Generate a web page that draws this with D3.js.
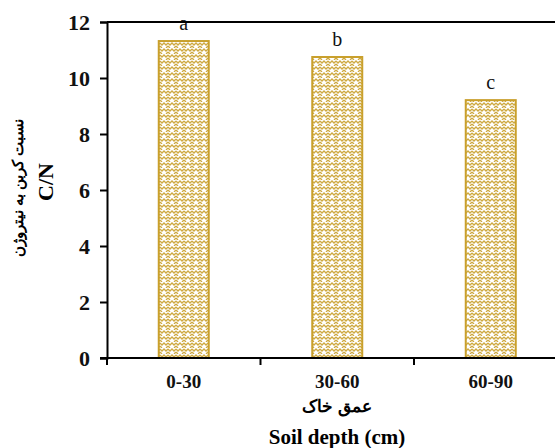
<!DOCTYPE html>
<html>
<head>
<meta charset="utf-8">
<script src="https://cdn.jsdelivr.net/npm/d3@7"></script>
<style>
  body { margin: 0; background: #fff; }
  svg { display: block; }
</style>
</head>
<body>
<div id="chart"></div>
<script>
// data
var depths = ['0-30', '30-60', '60-90'];
var cnRatio = [11.32, 10.75, 9.21];
var groupLetters = ['a', 'b', 'c'];
var yTicks = [0, 2, 4, 6, 8, 10, 12];

var W = 555, H = 448;
var SERIF = '"Liberation Serif", "DejaVu Serif", serif';
var GOLD = '#C9A02C';

var svg = d3.select('#chart').append('svg')
  .attr('width', W).attr('height', H);

/* zigzag fill pattern */
var defs = svg.append('defs');
var pat = defs.append('pattern')
  .attr('id', 'zig').attr('patternUnits', 'userSpaceOnUse')
  .attr('width', 8).attr('height', 6);
pat.append('rect').attr('width', 8).attr('height', 6).attr('fill', '#fff');
pat.append('path')
  .attr('d', 'M0,1 L2,3 L4,1 L6,3 L8,1 M0,4 L2,6 M6,6 L8,4')
  .attr('fill', 'none').attr('stroke', GOLD).attr('stroke-width', 1.3)
  .attr('opacity', 0.9);

var mLeft = 107, mTop = 22, mBottom = 358, step = 153.5;

var x = d3.scaleBand().domain(depths)
  .range([mLeft, mLeft + 3 * step]).paddingInner(0).paddingOuter(0);
var y = d3.scaleLinear().domain([0, 12]).range([mBottom, mTop]);

/* bars */
svg.selectAll('rect.bar').data(cnRatio).enter().append('rect')
  .attr('class', 'bar')
  .attr('x', function (d, i) { return x(depths[i]) + x.bandwidth() / 2 - 25; })
  .attr('y', function (d) { return y(d); })
  .attr('width', 50)
  .attr('height', function (d) { return y(0) - y(d); })
  .attr('fill', 'url(#zig)')
  .attr('stroke', GOLD).attr('stroke-width', 2);

/* letters */
svg.selectAll('text.grp').data(cnRatio).enter().append('text')
  .attr('class', 'grp')
  .attr('x', function (d, i) { return x(depths[i]) + x.bandwidth() / 2; })
  .attr('y', function (d) { return y(d) - 11; })
  .attr('text-anchor', 'middle')
  .attr('font-family', SERIF).attr('font-size', 20)
  .attr('fill', '#111')
  .text(function (d, i) { return groupLetters[i]; });

/* top border */
svg.append('line')
  .attr('x1', mLeft).attr('x2', W).attr('y1', mTop).attr('y2', mTop)
  .attr('stroke', '#000').attr('stroke-width', 2);

/* y axis */
var yAxis = svg.append('g')
  .attr('transform', 'translate(' + mLeft + ',0)')
  .call(d3.axisLeft(y).tickValues(yTicks).tickSize(7).tickPadding(10));
yAxis.select('.domain').attr('stroke-width', 2);
yAxis.selectAll('.tick line').attr('stroke-width', 2);
yAxis.selectAll('.tick text')
  .attr('font-family', SERIF).attr('font-size', 22).attr('font-weight', 'bold')
  .attr('fill', '#111');

/* x axis */
var xAxis = svg.append('g')
  .attr('transform', 'translate(0,' + mBottom + ')')
  .call(d3.axisBottom(x).tickSize(0).tickPadding(17));
xAxis.select('.domain').attr('stroke-width', 2)
  .attr('d', 'M' + (mLeft - 7) + ',0H' + (mLeft + 3 * step));
xAxis.selectAll('.tick text')
  .attr('font-family', SERIF).attr('font-size', 19).attr('font-weight', 'bold')
  .attr('fill', '#111');
xAxis.selectAll('line.sep').data(depths).enter().append('line')
  .attr('class', 'sep')
  .attr('x1', function (d) { return x(d); })
  .attr('x2', function (d) { return x(d); })
  .attr('y1', 0).attr('y2', 7)
  .attr('stroke', '#000').attr('stroke-width', 2);

/* axis titles */
svg.append('text')
  .attr('x', 337).attr('y', 412)
  .attr('text-anchor', 'middle')
  .attr('font-family', SERIF).attr('font-size', 17).attr('font-weight', 'bold')
  .attr('direction', 'rtl')
  .text('عمق خاک');
svg.append('text')
  .attr('x', 337).attr('y', 444)
  .attr('text-anchor', 'middle')
  .attr('font-family', SERIF).attr('font-size', 21).attr('font-weight', 'bold')
  .text('Soil depth (cm)');

svg.append('text')
  .attr('transform', 'translate(23,188) rotate(-90)')
  .attr('text-anchor', 'middle')
  .attr('font-family', SERIF).attr('font-size', 15).attr('font-weight', 'bold')
  .attr('direction', 'rtl')
  .text('نسبت کربن به نیتروژن');
svg.append('text')
  .attr('transform', 'translate(53,182) rotate(-90)')
  .attr('text-anchor', 'middle')
  .attr('font-family', SERIF).attr('font-size', 22).attr('font-weight', 'bold')
  .text('C/N');
</script>
</body>
</html>
